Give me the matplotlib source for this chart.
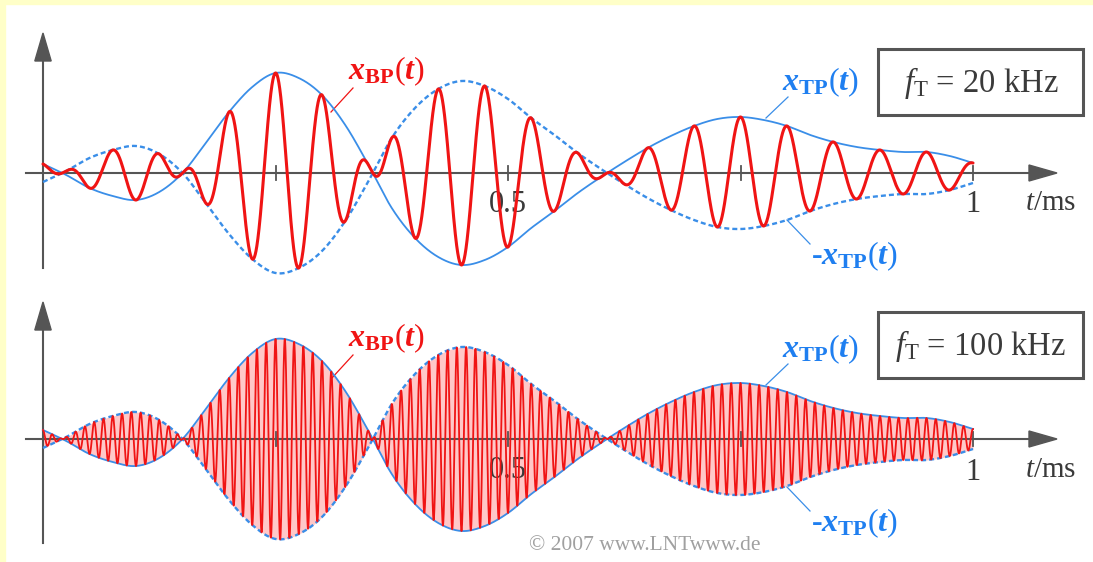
import numpy as np
import matplotlib
matplotlib.use("Agg")
import matplotlib.pyplot as plt
from matplotlib.patches import Rectangle, Polygon

plt.rcParams.update({
    "font.family": "Liberation Serif",
    "mathtext.fontset": "custom",
    "mathtext.rm": "Liberation Serif",
    "mathtext.it": "Liberation Serif:italic",
    "mathtext.bf": "Liberation Serif:bold",
    "mathtext.bfit": "Liberation Serif:bold:italic",
    "lines.scale_dashes": False,
})

# envelope x_TP(t), every 0.025 ms
t_read = np.linspace(0.0, 1.0, 41)
x_tp_read = [0.09, -0.02, -0.15, -0.23, -0.27, -0.19, 0.00, 0.30, 0.61, 0.86,
             1.00, 0.95, 0.78, 0.48, 0.08, -0.35, -0.65, -0.84, -0.92, -0.87,
             -0.74, -0.55, -0.38, -0.20, -0.04, 0.11, 0.25, 0.37, 0.47, 0.54,
             0.56, 0.53, 0.47, 0.38, 0.31, 0.26, 0.23, 0.21, 0.21, 0.17, 0.10]
carriers_khz = [20, 100]
panel_labels = ["20 kHz", "100 kHz"]
tick_pos = [0.25, 0.5, 0.75, 1.0]

RED = "#f01414"
BLUE = "#3a8ee8"
LBLUE = "#1f7ff0"
GRAY = "#555555"
TXT = "#3a3a3a"

W, H = 1093, 562
fig = plt.figure(figsize=(W / 100, H / 100), dpi=100)
fig.patch.set_facecolor("white")


def smooth(tk, vk, t):
    # cubic Hermite curve through the read points
    tk = np.asarray(tk); vk = np.asarray(vk)
    m = np.gradient(vk, tk)
    i = np.clip(np.searchsorted(tk, t) - 1, 0, len(tk) - 2)
    h = tk[i + 1] - tk[i]
    s = (t - tk[i]) / h
    return ((2 * s**3 - 3 * s**2 + 1) * vk[i] + (s**3 - 2 * s**2 + s) * h * m[i]
            + (-2 * s**3 + 3 * s**2) * vk[i + 1] + (s**3 - s**2) * h * m[i + 1])


t = np.linspace(0, 1, 20001)
env = smooth(t_read, x_tp_read, t)

# pixel layout: t=0 at x=43, 930 px per ms, 100 px per unit
x0, sx, sy = 43, 930, 100
panels = [(0, 280, 173), (280, 562, 439)]   # top px, bottom px, axis row

for k, (ptop, pbot, yax) in enumerate(panels):
    ax = fig.add_axes([0, 1 - pbot / H, 1, (pbot - ptop) / H])
    ax.set_xlim(-x0 / sx, (W - x0) / sx)
    ax.set_ylim((yax - pbot) / sy, (yax - ptop) / sy)
    ax.axis("off")
    py = lambda p: (yax - p) / sy
    px = lambda p: (p - x0) / sx
    off = 267 * k

    fT = carriers_khz[k]
    xbp = env * np.cos(2 * np.pi * fT * t)

    # axes with arrows
    ax.plot([px(26), px(1032)], [0, 0], color=GRAY, lw=1.5, zorder=2)
    ax.add_patch(Polygon([[px(1057), 0], [px(1029), 0.08], [px(1029), -0.08]],
                         closed=True, color=GRAY, zorder=2))
    ybot = py(268) if k == 0 else py(543)
    ytip = py(33) if k == 0 else py(302)
    ax.plot([0, 0], [ybot, ytip - 0.26], color=GRAY, lw=1.5, zorder=2)
    ax.add_patch(Polygon([[0, ytip], [-0.0088, ytip - 0.28], [0.0088, ytip - 0.28]],
                         closed=True, color=GRAY, zorder=2))
    for tp in tick_pos:
        ax.plot([tp, tp], [-0.07, 0.07], color=GRAY, lw=1.3, zorder=2)

    if k == 1:
        ax.fill_between(t, -np.abs(env), np.abs(env), color="#ffc8c8", lw=0, zorder=1)
        ax.plot(t, xbp, color=RED, lw=1.3, zorder=4)
    else:
        ax.plot(t, xbp, color=RED, lw=2.2, zorder=4, solid_capstyle="round")
    ax.plot(t, env, color=BLUE, lw=1.3, zorder=3)
    ax.plot(t, -env, color=BLUE, lw=1.7, ls=(0, (3.6, 2.2)), zorder=3)

    # labels and leader lines
    ax.text(px(386), py(71 + off), r"$\mathbfit{x}_{\mathbf{BP}}(\mathbfit{t})$",
            color=RED, fontsize=23, ha="center", va="center")
    ax.plot([px(353), px(331)], [py(88 + off), py(112 + off)], color=RED, lw=0.9)
    ax.text(px(820), py(82 + off), r"$\mathbfit{x}_{\mathbf{TP}}(\mathbfit{t})$",
            color=LBLUE, fontsize=23, ha="center", va="center")
    ax.plot([px(788), px(766)], [py(97 + off), py(118 + off)], color=BLUE, lw=0.9)
    ax.text(px(855), py(256 + off), r"-$\mathbfit{x}_{\mathbf{TP}}(\mathbfit{t})$",
            color=LBLUE, fontsize=23, fontweight="bold", ha="center", va="center")
    ax.plot([px(810), px(787)], [py(244 + off), py(220 + off)], color=BLUE, lw=0.9)

    ax.text(0.5, py(204 + off), "0.5", color=TXT, fontsize=22, ha="center", va="center")
    ax.text(1.0, py(205 + off), "1", color=TXT, fontsize=22, ha="center", va="center")
    ax.text(px(1051), py(203 + off), r"$\mathit{t}$/ms", color=TXT, fontsize=21,
            ha="center", va="center")

    # carrier frequency box
    bt = 49 if k == 0 else 312
    ax.add_patch(Rectangle((px(878), py(bt + 66)), 205 / sx, 66 / sy, fill=False,
                           ec=GRAY, lw=2.2, zorder=5))
    ax.text(px(981), py(bt + 34), r"$\mathit{f}_{\mathrm{T}}$ = " + panel_labels[k],
            color=TXT, fontsize=23.5, ha="center", va="center", zorder=6)

    if k == 1:
        ax.text(px(645), py(545), "\u00a9 2007 www.LNTwww.de", color="#a0a0a0",
                fontsize=15.5, ha="center", va="center")

# yellow frame on top and left
fig.patches.append(Rectangle((0, 1 - 4 / H), 1, 4 / H, transform=fig.transFigure,
                             color="#ffffc8", zorder=0))
fig.patches.append(Rectangle((0, 0), 5 / W, 1, transform=fig.transFigure,
                             color="#ffffc8", zorder=0))

fig.savefig("out.png", dpi=100, facecolor="white")
